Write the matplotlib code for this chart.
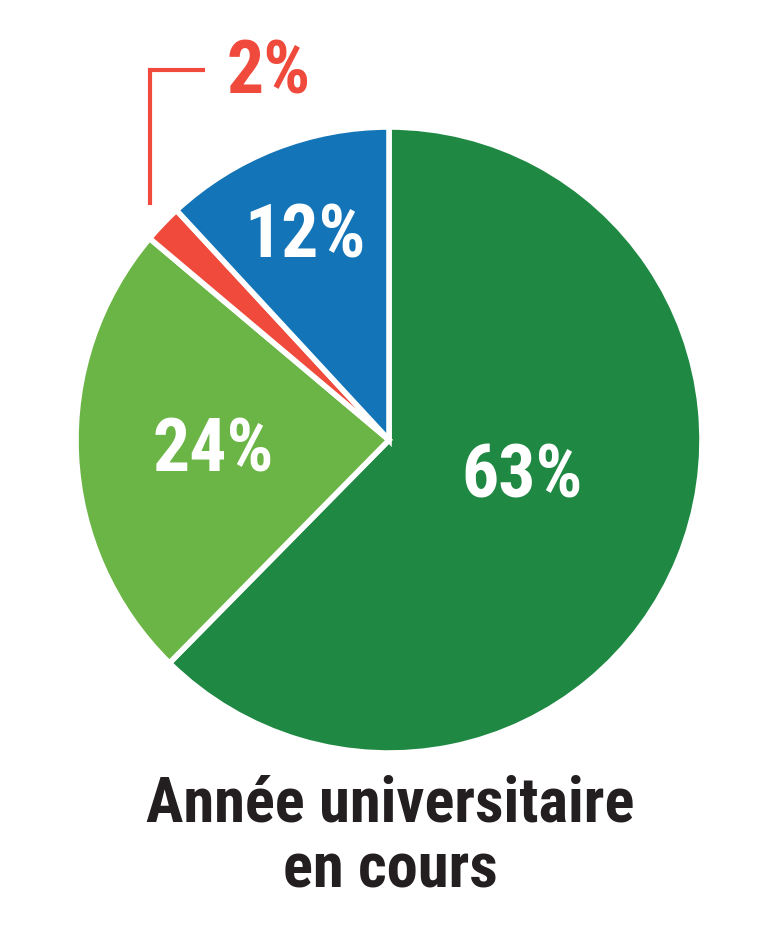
"""
Pie chart: Année universitaire en cours.
"""
import matplotlib
matplotlib.use('Agg')
import matplotlib.pyplot as plt
from matplotlib import font_manager

# data
labels = ['63%', '24%', '2%', '12%']
values = [63, 24, 2, 12]
colors = ['#1f8943', '#6ab546', '#ef4a3c', '#1375b8']
title_lines = ['Année universitaire', 'en cours']

# narrow bold font if one is around
available = {f.name for f in font_manager.fontManager.ttflist}
preferred = ['Liberation Sans Narrow', 'DejaVu Sans Condensed', 'Roboto Condensed',
             'Open Sans Condensed', 'DejaVu Sans']
FONT = [f for f in preferred if f in available] + ['DejaVu Sans']


def main():
    fig = plt.figure(figsize=(7.65, 9.4), dpi=100)
    ax = fig.add_axes([0, 0, 1, 1])

    center = (389, 440)
    radius = 313
    # y axis is flipped below, so start at -90 and go "counterclock" (clockwise on screen)
    ax.pie(values, colors=colors, startangle=-90, counterclock=True,
           center=center, radius=radius, frame=True,
           wedgeprops=dict(edgecolor='white', linewidth=4))
    ax.set_xlim(0, 765)
    ax.set_ylim(940, 0)
    ax.set_aspect('equal')
    ax.axis('off')

    # labels inside slices
    label_pos = {'63%': (522, 477), '24%': (213, 452), '12%': (305, 237)}
    for lab, (x, y) in label_pos.items():
        ax.text(x, y, lab, color='white', fontsize=53, fontweight='bold',
                family=FONT, fontstretch='condensed', ha='center', va='center')

    # small slice callout
    ax.plot([150, 150, 205], [205, 70, 70], color='#ef4a3c', linewidth=3,
            solid_joinstyle='miter', solid_capstyle='butt')
    ax.text(269, 73, labels[2], color='#ef4a3c', fontsize=53, fontweight='bold',
            family=FONT, fontstretch='condensed', ha='center', va='center')

    # title
    for i, line in enumerate(title_lines):
        ax.text(390, 805 + i * 66, line, color='#231f20', fontsize=45,
                fontweight='bold', family=FONT, fontstretch='condensed',
                ha='center', va='center')

    fig.savefig('out.png', dpi=100)


if __name__ == "__main__":
    main()
